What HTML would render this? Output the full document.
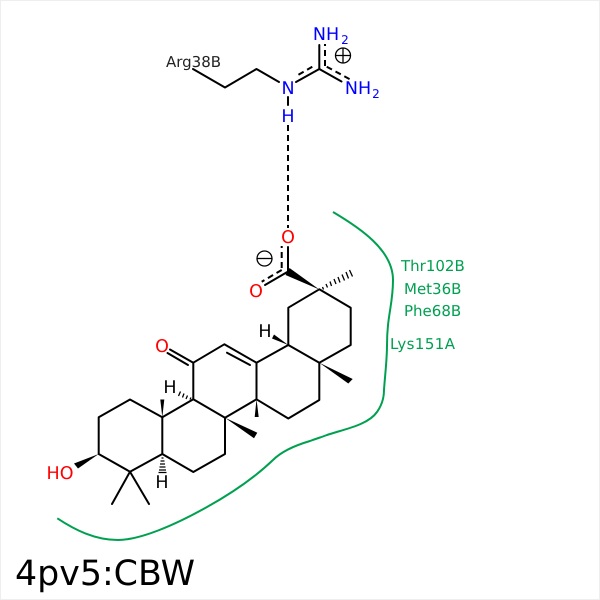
<!DOCTYPE html>
<html><head><meta charset="utf-8"><style>html,body{margin:0;padding:0;background:#fff}svg{display:block}text{font-family:"DejaVu Sans",sans-serif;text-rendering:geometricPrecision}</style></head>
<body>
<svg width="600" height="600" viewBox="0 0 600 600" xmlns="http://www.w3.org/2000/svg">
<rect x="0.5" y="0.5" width="599" height="599" fill="#fff" stroke="#eeeeee"/>
<path d="M57.300 518.300C75 530 95 540 118 540C140 540 175 525 207 507C225 497 250 482 273 460C280 453 293 446 310 441C318 438 322 437 327 435C345 429 368 425 377 412C382 405 384 398 384 390C385 375 387 360 387 345C387 315 393 305 393 280C393 250 360 228 333 212" fill="none" stroke="#00a050" stroke-width="2"/>
<g stroke="#000" stroke-width="2" fill="none" stroke-linecap="round" stroke-linejoin="round">
<path d="M193 69L225 87.500L256.500 69L279 82"/>
<path d="M296 82L319.300 69"/>
<path d="M319.300 69V45"/>
<path d="M319.300 69L341.500 81.500"/>
<path d="M288 97V105"/>
<path d="M98.700 454V417.300L130 399.500L162.300 417.300V454L130 471.700Z"/>
<path d="M162.300 417.300L193.300 399.300L225 417.700V454L193.300 472L162.300 454"/>
<path d="M193.300 399.300V362.700L224.300 344.300L256.500 362.700V399.300L225 417.700"/>
<path d="M227 352.700L250 365"/>
<path d="M193.300 362.700L170 349.500"/>
<path d="M167.500 353L188 365"/>
<path d="M256.500 399.300L288.300 418.500L319.300 400V362.700L288.300 345L256.500 362.700"/>
<path d="M288.300 345V307.700L319.300 289.300L350.700 307.700V345L319.300 362.700"/>
<path d="M130 471.700L112 504M130 471.700L149 504"/>
<path d="M288 271V247"/>
<path d="M287.700 271.700L265 285"/>
</g>
<g stroke="#000" stroke-width="2" fill="none" stroke-dasharray="6 4">
<path d="M288 125V228"/>
<path d="M312.300 66.700L295 76.700"/>
<path d="M326.700 66.700L350 79.300"/>
<path d="M325 66V44"/>
<path d="M281.700 268V246"/>
<path d="M281.700 270L261.700 281.700"/>
</g>
<g fill="#000">
<polygon points="319.300,289.500 289.500,268 285.500,275"/>
<polygon points="319.300,362.700 352.700,379 348.300,383.500"/>
<polygon points="225,417.700 257.300,432.700 254,438.300"/>
<polygon points="162.300,417.300 160.300,399.500 164.300,399.500"/>
<polygon points="256.500,399.300 254.700,417 258.700,417"/>
<polygon points="98.700,454 74,463.500 78,468.500"/>
<polygon points="288.300,345 274,334.500 272,338.500"/>
</g>
<g stroke="#000" stroke-width="1.300" fill="none">
<path d="M322.500 287L323.500 289.500M326 284L327.500 287.500M330 281.500L331.500 286M334 279L336 284M338 277L340 282.500M342 274.500L344.500 280.500M346 272L348.500 278.500M349.500 270L352.500 276.500"/>
<path d="M191 397.500L190 399.500M187.500 395.500L186 399M184 393.500L182.500 397.500M180.500 391.500L178.500 396"/>
<path d="M161.500 458H163.500M160.500 461H164.500M160 464H165M159.500 467H165.500M159 470H166M158.500 472.500H166.500"/>
</g>
<g font-size="17.500" text-anchor="middle">
<text x="288" y="94" fill="#0000ff">N</text>
<text x="288" y="122" fill="#0000ff">H</text>
<text x="326" y="40" fill="#0000ff">NH</text>
<text x="345" y="44" fill="#0000ff" font-size="12">2</text>
<text x="358" y="94" fill="#0000ff">NH</text>
<text x="376" y="98" fill="#0000ff" font-size="12">2</text>
<text x="288" y="243" fill="#ff0000">O</text>
<text x="256" y="297" fill="#ff0000">O</text>
<text x="162" y="352" fill="#ff0000">O</text>
<text x="60" y="479" fill="#ff0000">HO</text>
<text x="265" y="337" fill="#000">H</text>
<text x="170" y="393" fill="#000">H</text>
<text x="162" y="488" fill="#000">H</text>
</g>
<g fill="none" stroke="#000" stroke-width="1.300">
<circle cx="343" cy="55.500" r="7.500"/><path d="M335.500 55.500H350.500M343 48V63"/>
<circle cx="264.500" cy="258.500" r="7.500"/><path d="M257 258.500H272"/>
</g>
<text x="166" y="67" font-size="15" fill="#222">Arg38B</text>
<g font-size="15" fill="#00a050">
<text x="401" y="271">Thr102B</text>
<text x="404" y="294">Met36B</text>
<text x="404" y="316">Phe68B</text>
<text x="390" y="349" textLength="65">Lys151A</text>
</g>
<text x="15" y="585" font-size="34.800" fill="#000">4pv5:CBW</text>
</svg>
</body></html>
